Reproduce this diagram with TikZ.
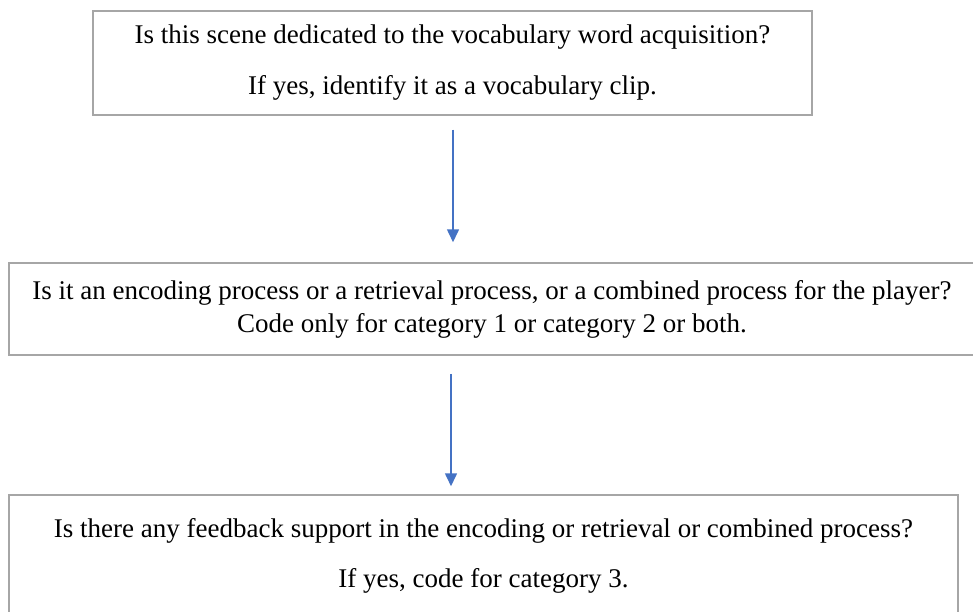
\documentclass[tikz,border=0pt]{standalone}
\usepackage{fontspec}
\setmainfont{Liberation Serif}
\usepackage{xcolor}
\usepackage{tikz}
\usetikzlibrary{arrows.meta,calc}

\definecolor{boxgray}{HTML}{A6A6A6}
\definecolor{flowblue}{HTML}{4472C4}

\begin{document}
\begin{tikzpicture}[x=1pt, y=-1pt, every node/.style={draw=boxgray, line width=1.5pt, align=center, inner sep=0pt, font=\fontsize{27}{33}\selectfont}, flow/.style={draw=flowblue, line width=1.6pt, -{Triangle[width=12pt,length=13pt]}}]
	\useasboundingbox (0,0) rectangle (973,612);
	\node(q1) at (452.5,63) [minimum width=719pt, minimum height=104pt]{Is this scene dedicated to the vocabulary word acquisition?\\[18pt] If yes, identify it as a vocabulary clip.};
	\node(q2) at (492,309) [minimum width=966pt, minimum height=92pt]{Is it an encoding process or a retrieval process, or a combined process for the player?\\ Code only for category 1 or category 2 or both.};
	\node(q3) at (483.5,556) [minimum width=949pt, minimum height=122pt]{Is there any feedback support in the encoding or retrieval or combined process?\\[17pt] If yes, code for category 3.};
	\draw[flow] ($(q1.south)+(0.5,14)$) -- ($(q1.south |- q2.north)+(0.5,-20)$);
	\draw[flow] ($(q1.south |- q2.south)+(-1.5,18)$) -- ($(q1.south |- q3.north)+(-1.5,-8)$);
\end{tikzpicture}
\end{document}
